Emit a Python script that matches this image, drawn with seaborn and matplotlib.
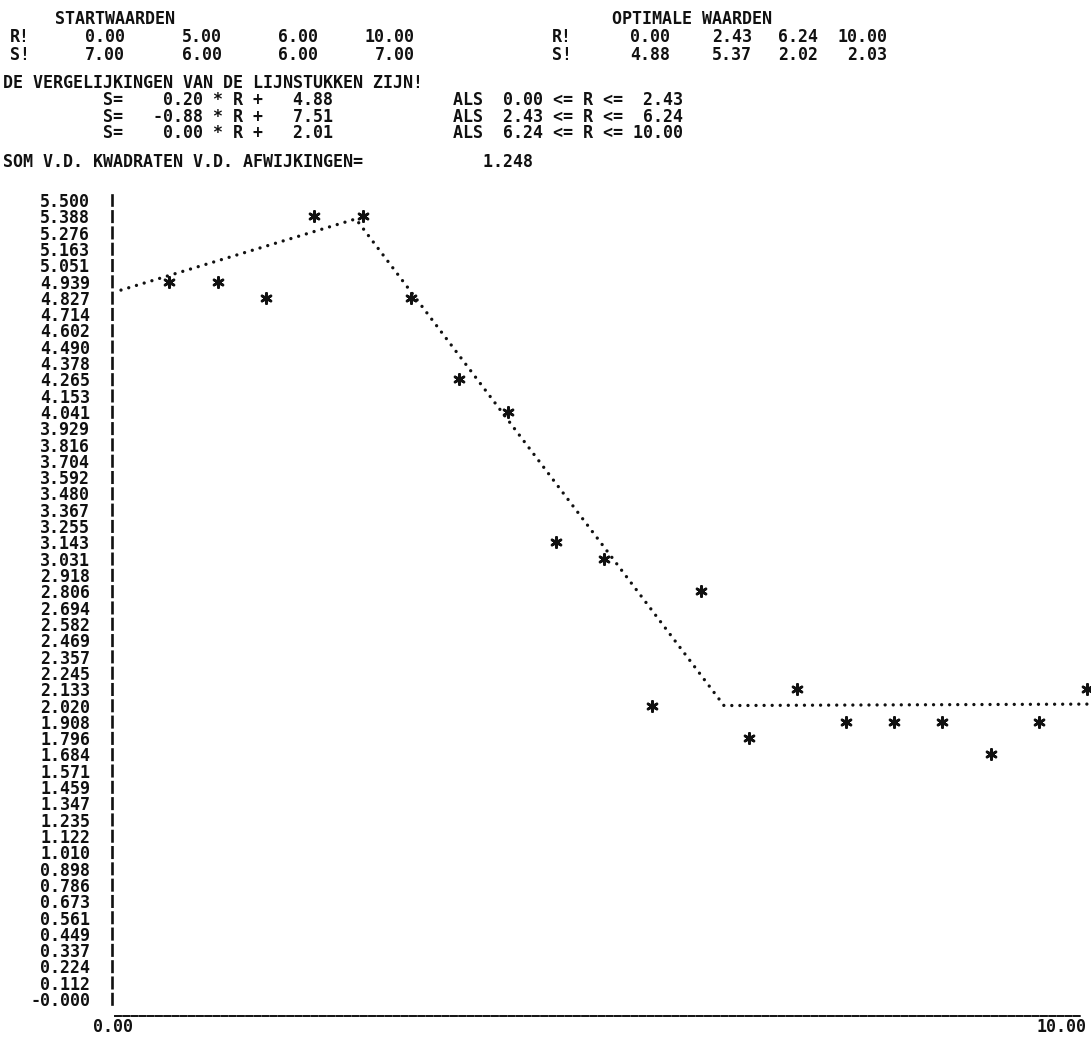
import matplotlib
matplotlib.use("Agg")
import matplotlib.pyplot as plt
import matplotlib.transforms as mtransforms
import seaborn as sns

# ---------------- data ----------------
START_R = [0.00, 5.00, 6.00, 10.00]
START_S = [7.00, 6.00, 6.00, 7.00]
OPT_R = [0.00, 2.43, 6.24, 10.00]
OPT_S = [4.88, 5.37, 2.02, 2.03]
SLOPES = [0.20, -0.88, 0.00]
INTERCEPTS = [4.88, 7.51, 2.01]
SEG_LO = [0.00, 2.43, 6.24]
SEG_HI = [2.43, 6.24, 10.00]
SSQ = 1.248

DATA_R = [0.5, 1.0, 1.5, 2.0, 2.5, 3.0, 3.5, 4.0, 4.5, 5.0,
          5.5, 6.0, 6.5, 7.0, 7.5, 8.0, 8.5, 9.0, 9.5, 10.0]
DATA_S = [4.939, 4.939, 4.827, 5.388, 5.388, 4.827, 4.265, 4.041, 3.143, 3.031,
          2.020, 2.806, 1.796, 2.133, 1.908, 1.908, 1.908, 1.684, 1.908, 2.133]

Y_TICK_LABELS = ["5.500", "5.388", "5.276", "5.163", "5.051", "4.939", "4.827", "4.714",
                 "4.602", "4.490", "4.378", "4.265", "4.153", "4.041", "3.929", "3.816",
                 "3.704", "3.592", "3.480", "3.367", "3.255", "3.143", "3.031", "2.918",
                 "2.806", "2.694", "2.582", "2.469", "2.357", "2.245", "2.133", "2.020",
                 "1.908", "1.796", "1.684", "1.571", "1.459", "1.347", "1.235", "1.122",
                 "1.010", "0.898", "0.786", "0.673", "0.561", "0.449", "0.337", "0.224",
                 "0.112", "-0.000"]
X_TICKS = [0.0, 10.0]
X_TICK_LABELS = ["0.00", "10.00"]

# ---------------- style ----------------
sns.set_theme(style="white")
plt.rcParams["font.family"] = ["DejaVu Sans Mono", "DejaVu Sans"]
plt.rcParams["lines.scale_dashes"] = False
INK = "#111111"
FS = 11.96          # -> 10 px character pitch at 100 dpi
W_PX, H_PX = 1091, 1038
DPI = 100

fig = plt.figure(figsize=(W_PX / DPI, H_PX / DPI), dpi=DPI)
fig.patch.set_facecolor("white")

# axes geometry (pixels)
ax_left, ax_right, ax_top, ax_bot = 112, 1091, 190, 1016
x0_px, xpu = 121.0, 96.63        # x = 0 pixel, pixels per unit
y0_px, ypu = 999.0, 145.27       # y = 0 pixel, pixels per unit
ax = fig.add_axes([ax_left / W_PX, 1 - ax_bot / H_PX,
                   (ax_right - ax_left) / W_PX, (ax_bot - ax_top) / H_PX])
ax.set_xlim((ax_left - x0_px) / xpu, (ax_right - x0_px) / xpu)
ax.set_ylim((y0_px - ax_bot) / ypu, (y0_px - ax_top) / ypu)

# fitted piecewise line (dotted, printer style)
sns.lineplot(x=OPT_R, y=OPT_S, ax=ax, color=INK, linewidth=2.4,
             linestyle=(0, (0.01, 5.8)), dash_capstyle="round",
             estimator=None, sort=False, clip_on=False)
# observations ('*')
sns.scatterplot(x=DATA_R, y=DATA_S, ax=ax, marker=(6, 2, 0), s=55,
                color=INK, linewidth=1.9, zorder=3, clip_on=False)

# axes styling
for side in ("top", "right"):
    ax.spines[side].set_visible(False)
row_px = 0.112245 * ypu
half = 5.2 / ypu
ax.spines["left"].set_bounds(-half, 5.5 + half)
ax.spines["left"].set_linewidth(1.9)
ax.spines["left"].set_color(INK)
on_pt = 10.4 * 0.72
ax.spines["left"].set_linestyle((0, (on_pt, row_px * 0.72 - on_pt)))
ax.spines["bottom"].set_bounds((115 - x0_px) / xpu, (1080 - x0_px) / xpu)
ax.spines["bottom"].set_linewidth(1.4)
ax.spines["bottom"].set_color(INK)
ax.spines["bottom"].set_linestyle((0, (4.3, 1.6)))

ax.set_yticks([float(s) for s in Y_TICK_LABELS], labels=Y_TICK_LABELS)
ax.set_xticks(X_TICKS, labels=X_TICK_LABELS)
ax.tick_params(axis="y", length=0, pad=15.8, labelsize=FS, labelcolor=INK)
ax.tick_params(axis="x", length=0, pad=1.5, labelsize=FS, labelcolor=INK)
for lab in ax.get_yticklabels() + ax.get_xticklabels():
    lab.set_fontweight("bold")
    lab.set_fontfamily(["DejaVu Sans Mono", "DejaVu Sans"])
xl = ax.get_xticklabels()
shifts = [-8, -26]
for lab, dx in zip(xl, shifts):
    lab.set_transform(lab.get_transform() +
                      mtransforms.ScaledTranslation(dx / DPI, 0, fig.dpi_scale_trans))
ax.set_xlabel("")
ax.set_ylabel("")
ax.grid(False)


# ---------------- header text ----------------
def put(x, y, s, ha="left"):
    fig.text(x / W_PX, 1 - y / H_PX, s, ha=ha, va="center_baseline",
             fontsize=FS, fontweight="bold", color=INK,
             family=["DejaVu Sans Mono", "DejaVu Sans"])


Y_START, Y_R, Y_S = 17, 35, 53
Y_DE = 81
Y_EQ = [98, 114.5, 131]
Y_SOM = 160

put(55, Y_START, "STARTWAARDEN")
put(612, Y_START, "OPTIMALE WAARDEN")
put(10, Y_R, "R!")
put(10, Y_S, "S!")
put(552, Y_R, "R!")
put(552, Y_S, "S!")
for xr, r, s in zip([125, 222, 318, 415], START_R, START_S):
    put(xr, Y_R, f"{r:.2f}", "right")
    put(xr, Y_S, f"{s:.2f}", "right")
for xr, r, s in zip([670, 752, 818, 887], OPT_R, OPT_S):
    put(xr, Y_R, f"{r:.2f}", "right")
    put(xr, Y_S, f"{s:.2f}", "right")

put(3, Y_DE, "DE VERGELIJKINGEN VAN DE LIJNSTUKKEN ZIJN!")
for i in range(3):
    txt = (f"{'':10}S={SLOPES[i]:>8.2f} * R + {INTERCEPTS[i]:>6.2f}{'':12}"
           f"ALS {SEG_LO[i]:>5.2f} <= R <= {SEG_HI[i]:>5.2f}")
    put(3, Y_EQ[i], txt)
put(3, Y_SOM, f"SOM V.D. KWADRATEN V.D. AFWIJKINGEN={SSQ:>17.3f}")

fig.savefig("out.png", dpi=DPI, facecolor="white")
